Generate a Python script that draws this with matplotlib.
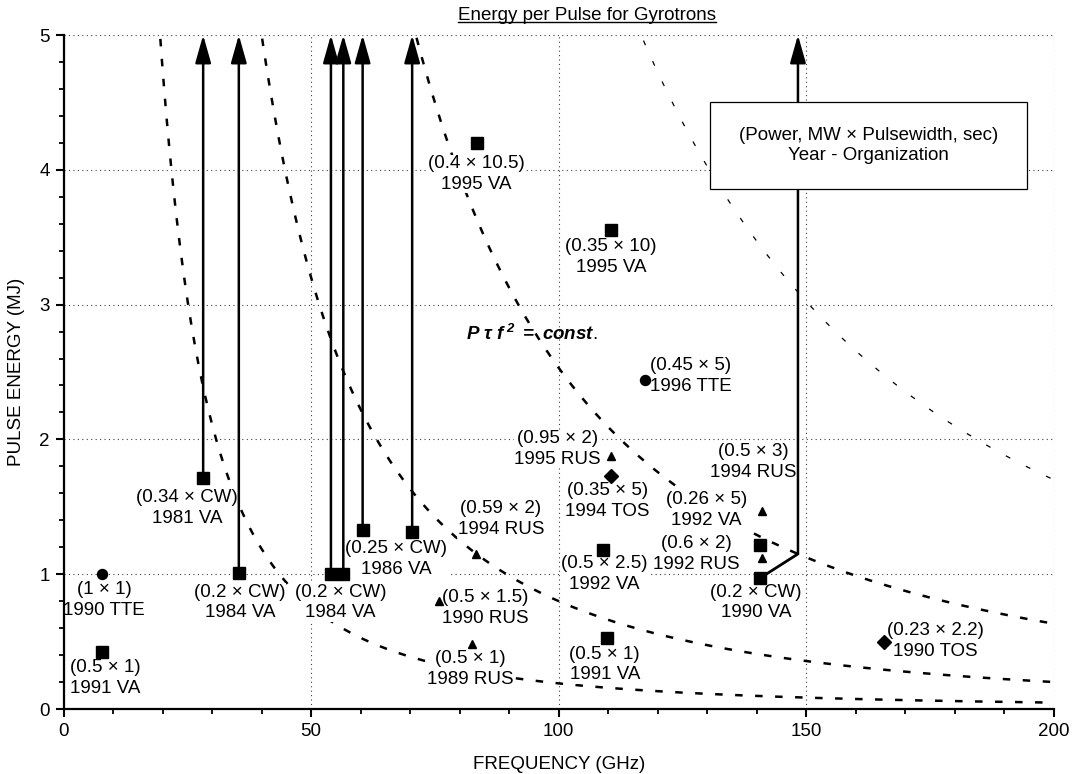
import matplotlib.pyplot as plt
from matplotlib.ticker import MultipleLocator
from matplotlib.patches import Rectangle
from matplotlib.lines import Line2D

import numpy as np

plt.rcParams['font.family'] = ['Liberation Sans', 'DejaVu Sans']
plt.rcParams['mathtext.fontset'] = 'custom'
plt.rcParams['mathtext.rm'] = 'Liberation Sans'
plt.rcParams['mathtext.it'] = 'Liberation Sans:italic'
plt.rcParams['mathtext.bf'] = 'Liberation Sans:bold:italic'

# VA (squares)
va_freq = [7.8, 28.2, 35.4, 54.0, 56.5, 60.4, 70.4, 83.4, 110.6, 109.0, 109.7, 140.6, 140.6]
va_energy = [0.42, 1.71, 1.01, 1.0, 1.0, 1.33, 1.31, 4.2, 3.55, 1.18, 0.53, 1.22, 0.97]
va_labels = ["(0.5 × 1)\n1991 VA", "(0.34 × CW)\n1981 VA", "(0.2 × CW)\n1984 VA",
             "(0.2 × CW)\n1984 VA", None, None, "(0.25 × CW)\n1986 VA",
             "(0.4 × 10.5)\n1995 VA", "(0.35 × 10)\n1995 VA", "(0.5 × 2.5)\n1992 VA",
             "(0.5 × 1)\n1991 VA", "(0.26 × 5)\n1992 VA", "(0.2 × CW)\n1990 VA"]
va_label_xy = [(8.5, 0.23), (25.0, 1.49), (35.6, 0.79), (55.9, 0.79), None, None,
               (67.2, 1.11), (83.4, 3.97), (110.6, 3.35), (109.2, 1.0), (109.3, 0.33),
               (129.8, 1.475), (139.8, 0.79)]

# TTE (circles)
tte_freq = [7.8, 117.5]
tte_energy = [1.0, 2.44]
tte_labels = ["(1 × 1)\n1990 TTE", "(0.45 × 5)\n1996 TTE"]
tte_label_xy = [(8.2, 0.81), (126.6, 2.47)]

# RUS (triangles)
rus_freq = [83.2, 75.9, 82.5, 110.6, 141.1, 141.1]
rus_energy = [1.15, 0.80, 0.48, 1.88, 1.47, 1.12]
rus_labels = ["(0.59 × 2)\n1994 RUS", "(0.5 × 1.5)\n1990 RUS", "(0.5 × 1)\n1989 RUS",
              "(0.95 × 2)\n1995 RUS", "(0.5 × 3)\n1994 RUS", "(0.6 × 2)\n1992 RUS"]
rus_label_xy = [(88.3, 1.41), (85.2, 0.75), (82.2, 0.30), (99.8, 1.93),
                (139.3, 1.835), (127.7, 1.15)]

# TOS (diamonds)
tos_freq = [110.6, 165.6]
tos_energy = [1.73, 0.50]
tos_labels = ["(0.35 × 5)\n1994 TOS", "(0.23 × 2.2)\n1990 TOS"]
tos_label_xy = [(109.8, 1.54), (176.0, 0.505)]

# CW tubes: arrows from the square up to the top
cw_idx = [1, 2, 3, 4, 5, 6]
bent_idx = 12
bent_freq = 148.3

# P tau f^2 = const curves
curve_consts = [1900, 8000, 25300, 68000]

fig = plt.figure(figsize=(10.76, 7.74), dpi=100)
ax = fig.add_axes([63.5 / 1076, 65 / 774, 990.5 / 1076, 674 / 774])

ax.set_xlim(0, 200)
ax.set_ylim(0, 5)

f = np.linspace(5, 200, 800)
for i, c in enumerate(curve_consts):
    if i < 3:
        ax.plot(f, c / f ** 2, color='black', lw=1.8, linestyle=(0, (3, 5)), zorder=2)
    else:
        ax.plot(f, c / f ** 2, color='black', lw=0.9, linestyle=(0, (4, 14)), zorder=2)

arrow_style = '-|>,head_length=1.7,head_width=0.48'
for i in cw_idx:
    ax.annotate('', xy=(va_freq[i], 5), xytext=(va_freq[i], va_energy[i]),
                arrowprops=dict(arrowstyle=arrow_style, color='black', lw=1.8,
                                shrinkA=0, shrinkB=0, mutation_scale=10),
                annotation_clip=False, zorder=5.5)

joint_e = curve_consts[2] / bent_freq ** 2
ax.plot([va_freq[bent_idx], bent_freq], [va_energy[bent_idx], joint_e],
        color='black', lw=2, zorder=5.5, solid_capstyle='round')
ax.annotate('', xy=(bent_freq, 5), xytext=(bent_freq, joint_e),
            arrowprops=dict(arrowstyle=arrow_style, color='black', lw=1.8,
                            shrinkA=0, shrinkB=0, mutation_scale=10),
            annotation_clip=False, zorder=5.5)

groups = [
    ('s', 8.0, va_freq, va_energy, va_labels, va_label_xy),
    ('o', 7.2, tte_freq, tte_energy, tte_labels, tte_label_xy),
    ('^', 6.2, rus_freq, rus_energy, rus_labels, rus_label_xy),
    ('D', 7.0, tos_freq, tos_energy, tos_labels, tos_label_xy),
]
for marker, ms, xs, ys, labels, label_xy in groups:
    ax.plot(xs, ys, linestyle='none', marker=marker, markersize=ms,
            color='black', zorder=6)
    for lab, pos in zip(labels, label_xy):
        if lab is None:
            continue
        ax.text(pos[0], pos[1], lab, ha='center', va='center', fontsize=13.5,
                linespacing=1.3, zorder=5,
                bbox=dict(facecolor='white', edgecolor='none', pad=0.3))

# legend box
ax.add_patch(Rectangle((130.6, 3.86), 64.0, 0.64, facecolor='white',
                       edgecolor='black', lw=0.9, zorder=7))
ax.text(162.6, 4.18, "(Power, MW × Pulsewidth, sec)\nYear - Organization",
        ha='center', va='center', fontsize=13.5, linespacing=1.3, zorder=8)

ax.text(81.3, 2.74, r'$\mathbf{P\ \tau\ f^{\ 2}\ =\ const}$.', ha='left',
        va='baseline', fontsize=13.5, zorder=5)

# axes styling
for side in ['top', 'right']:
    ax.spines[side].set_visible(False)
for side in ['left', 'bottom']:
    ax.spines[side].set_linewidth(1.6)
    ax.spines[side].set_zorder(10)

ax.xaxis.set_major_locator(MultipleLocator(50))
ax.xaxis.set_minor_locator(MultipleLocator(10))
ax.yaxis.set_major_locator(MultipleLocator(1))
ax.yaxis.set_minor_locator(MultipleLocator(0.2))
ax.tick_params(which='major', direction='out', length=6, width=1.5, labelsize=13.5, pad=4)
ax.tick_params(which='minor', direction='out', length=3.5, width=1.3)
ax.grid(True, which='major', color='0.25', lw=0.8, linestyle=(0, (1, 3)), zorder=1)
ax.set_axisbelow(True)

ax.set_xlabel('FREQUENCY (GHz)', fontsize=13.5, va='center')
ax.xaxis.set_label_coords(0.5, -0.083)
ax.set_ylabel('PULSE ENERGY (MJ)', fontsize=13.5, va='center')
ax.yaxis.set_label_coords(-0.047, 0.5)

title = fig.text(587 / 1076, 1 - 15 / 774, 'Energy per Pulse for Gyrotrons',
                 ha='center', va='center', fontsize=13.5)
fig.canvas.draw()
bb = title.get_window_extent().transformed(fig.transFigure.inverted())
fig.add_artist(Line2D([bb.x0, bb.x1], [bb.y0 + 0.002, bb.y0 + 0.002],
                      color='black', lw=1.0, transform=fig.transFigure))

fig.savefig('out.png', dpi=100)
plt.close(fig)
